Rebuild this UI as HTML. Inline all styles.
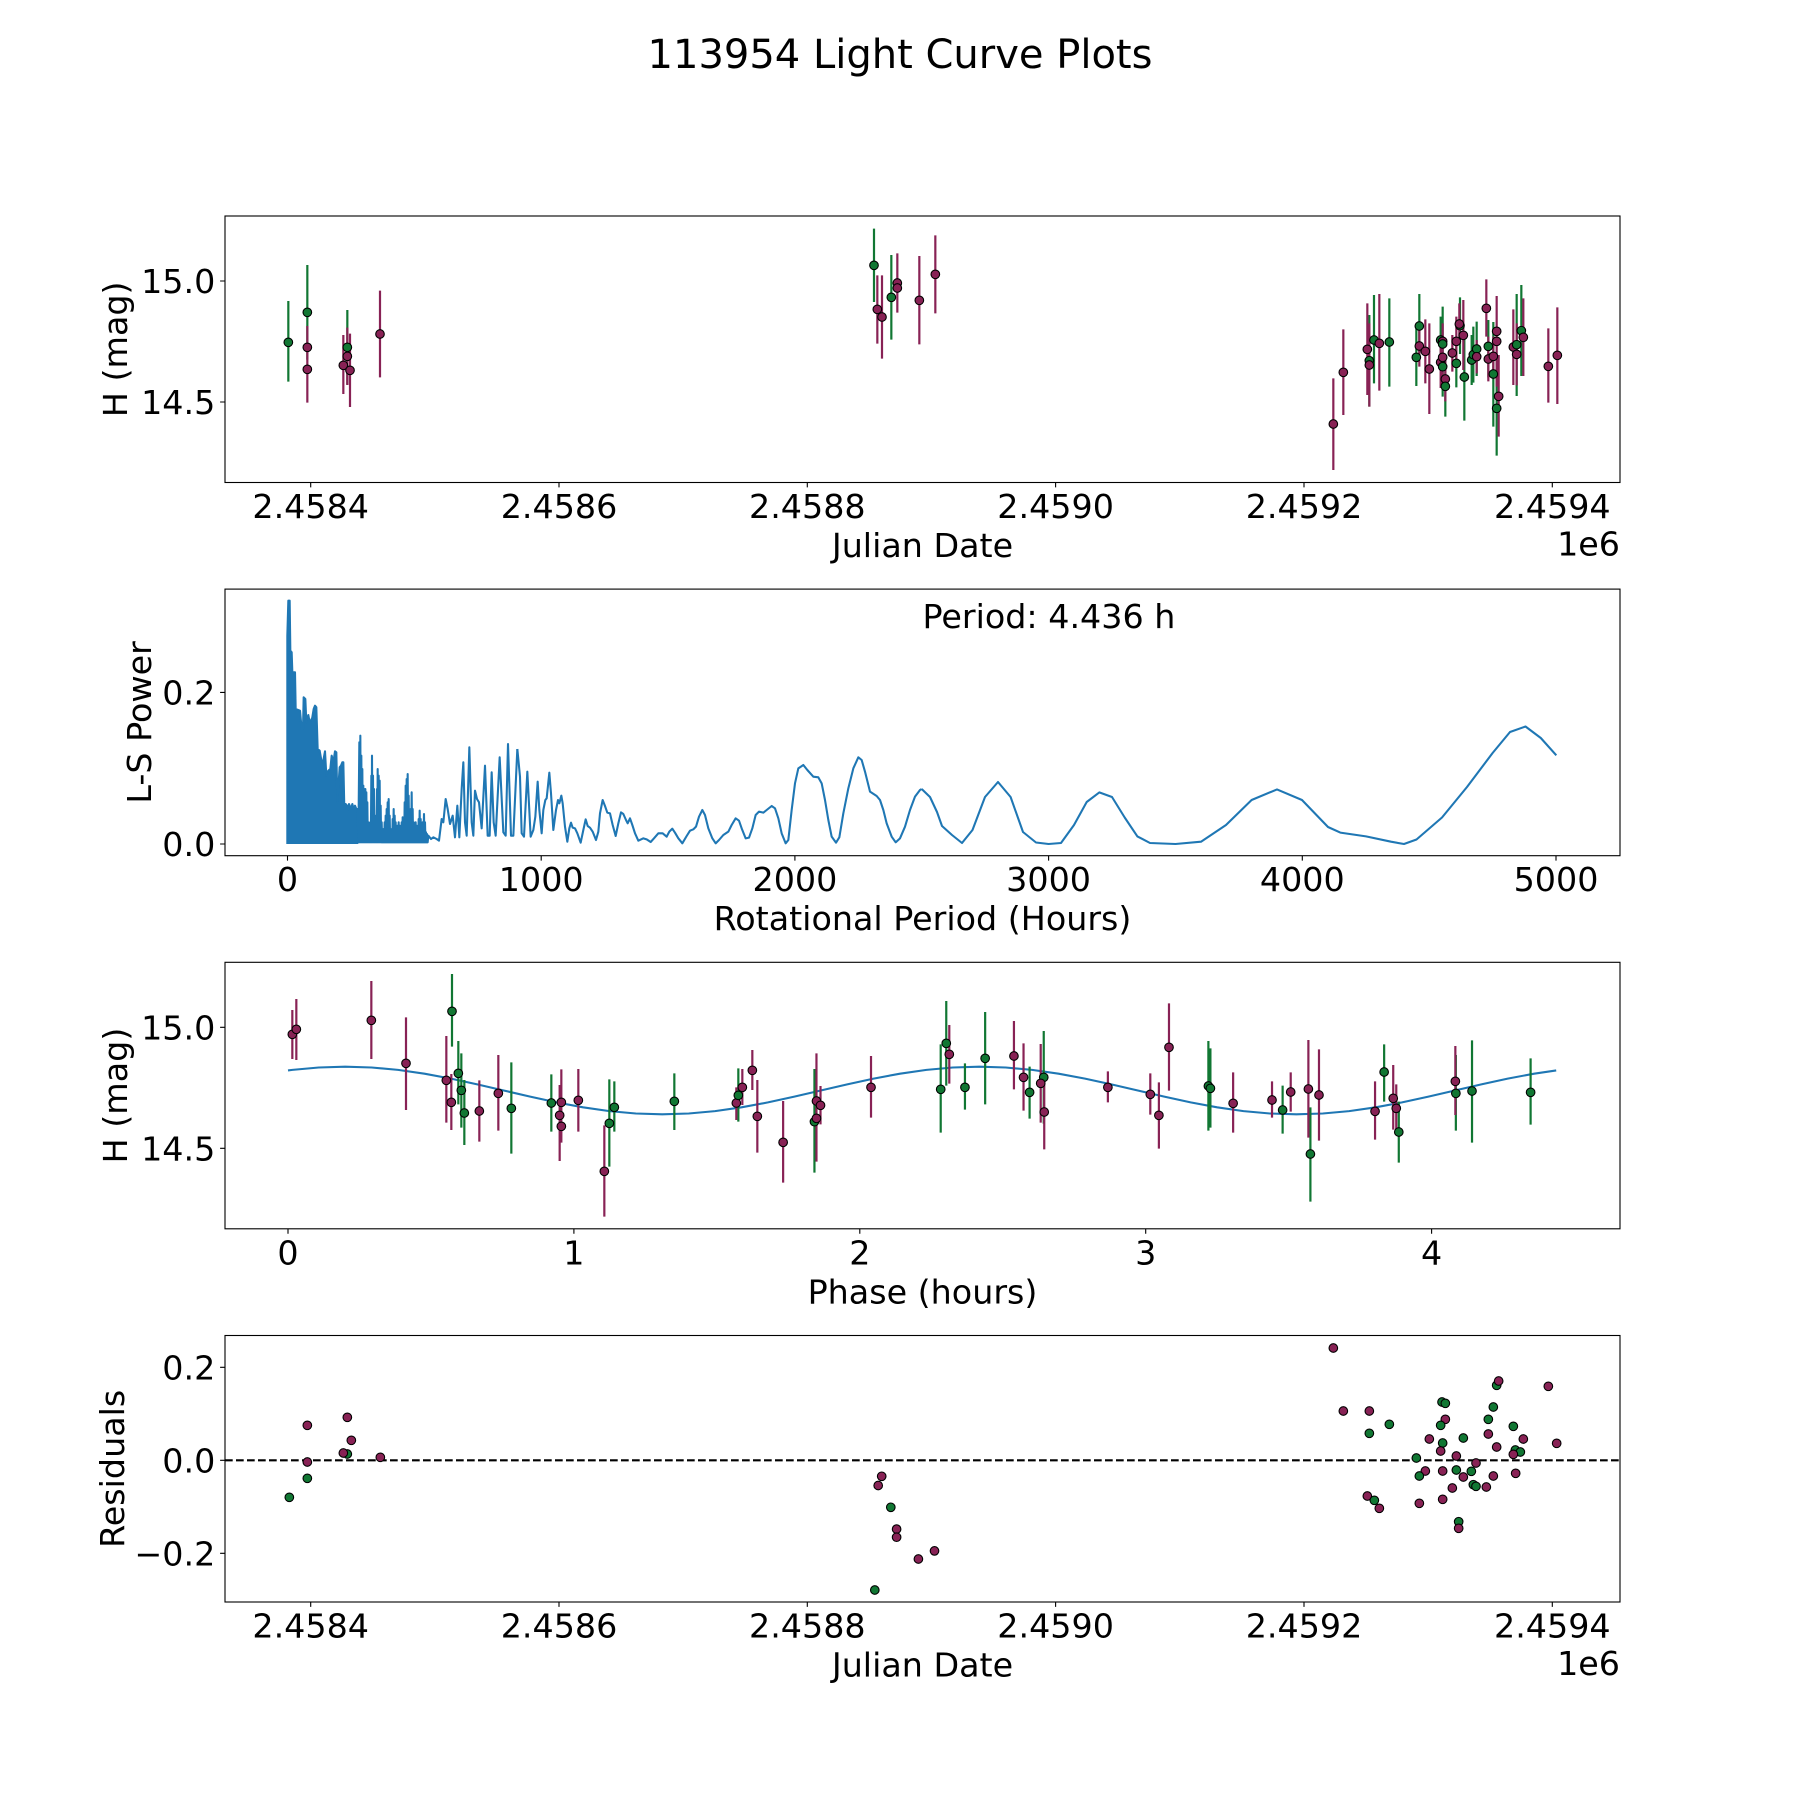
<!DOCTYPE html>
<html><head><meta charset="utf-8"><style>
html,body{margin:0;padding:0;background:#fff}
svg{display:block}
text{font-family:"DejaVu Sans","Liberation Sans",sans-serif;fill:#000}
.tk{font-size:33.33px}
.pts circle,.pts ellipse{stroke:#000;stroke-width:1.1;vector-effect:non-scaling-stroke}
.pts path{fill:none;stroke-width:2.2;vector-effect:non-scaling-stroke}
.g{fill:#117733}.m{fill:#882255}
.eg{stroke:#117733}.em{stroke:#882255}
.ax{fill:none;stroke:#000;stroke-width:1.11}
.tick{stroke:#000;stroke-width:1.11;fill:none}
.ls{fill:none;stroke:#1f77b4;stroke-width:2.08;stroke-linejoin:round;vector-effect:non-scaling-stroke}
</style></head><body>
<svg width="1800" height="1800" viewBox="0 0 1800 1800" xmlns="http://www.w3.org/2000/svg">
<rect width="1800" height="1800" fill="#fff"/>
<text x="900" y="68" font-size="40" text-anchor="middle">113954 Light Curve Plots</text>

<!-- ===== AXES 1 ===== -->
<g class="pts" transform="translate(150,180) scale(0.333333)">
<path class="eg" d="M415 363V605 M472 255V539 M592 390V614"/>
<path class="em" d="M472 438V566 M472 468V668 M580 465V642 M592 443V615 M600 461V681 M690 332V592"/>
<circle class="g" cx="415" cy="487" r="12.9"/><circle class="g" cx="472" cy="397" r="12.9"/>
<circle class="m" cx="472" cy="502" r="12.9"/><circle class="m" cx="472" cy="568" r="12.9"/>
<circle class="m" cx="580" cy="556" r="12.9"/><circle class="g" cx="592" cy="502" r="12.9"/>
<circle class="m" cx="592" cy="529" r="12.9"/><circle class="m" cx="600" cy="571" r="12.9"/>
<circle class="m" cx="690" cy="462" r="12.9"/>
</g>
<g class="pts" transform="translate(860,216) scale(0.333333)">
<path class="eg" d="M42 38V258 M94 117V371"/>
<path class="em" d="M52 178V383 M66 178V428 M112 112V290 M178 120V385 M226 58V292"/>
<circle class="g" cx="42" cy="148" r="12.9"/><circle class="m" cx="52" cy="280" r="12.9"/>
<circle class="m" cx="66" cy="303" r="12.9"/><circle class="g" cx="94" cy="244" r="12.9"/>
<circle class="m" cx="112" cy="201" r="12.9"/><circle class="m" cx="112" cy="216" r="12.9"/>
<circle class="m" cx="178" cy="253" r="12.9"/><circle class="m" cx="226" cy="175" r="12.9"/>
</g>
<g class="pts" transform="translate(1320,270) scale(0.333333)">
<path class="eg" d="M148 135V410 M162 75V340 M208 85V350 M298 72V264 M289 176V348 M362 140V280 M368 110V334 M368 200V380 M376 258V440 M409 208V352 M420 82V252 M433 190V452 M455 195V345 M460 170V338 M470 155V318 M505 150V322 M520 156V470 M530 273V557 M590 72V378 M604 45V318"/>
<path class="em" d="M40 325V600 M70 178V435 M142 100V375 M148 160V410 M178 72V362 M298 166V290 M316 148V340 M328 160V432 M368 160V345 M362 200V354 M368 180V344 M376 260V394 M397 195V305 M409 140V288 M418 100V224 M430 90V300 M470 210V310 M499 28V200 M505 200V334 M520 200V318 M530 78V290 M530 150V350 M536 255V500 M580 118V345 M590 160V346 M610 85V318 M685 175V398 M712 112V402"/>
<circle class="m" cx="40" cy="462" r="12.9"/><circle class="m" cx="70" cy="307" r="12.9"/>
<circle class="m" cx="142" cy="238" r="12.9"/><circle class="g" cx="148" cy="272" r="12.9"/>
<circle class="m" cx="148" cy="285" r="12.9"/><circle class="g" cx="162" cy="210" r="12.9"/>
<circle class="m" cx="178" cy="220" r="12.9"/><circle class="g" cx="208" cy="216" r="12.9"/>
<circle class="g" cx="298" cy="168" r="12.9"/><circle class="g" cx="289" cy="262" r="12.9"/>
<circle class="m" cx="298" cy="228" r="12.9"/><circle class="m" cx="316" cy="244" r="12.9"/>
<circle class="m" cx="328" cy="297" r="12.9"/><circle class="g" cx="362" cy="210" r="12.9"/>
<circle class="m" cx="368" cy="214" r="12.9"/><circle class="g" cx="368" cy="222" r="12.9"/>
<circle class="m" cx="362" cy="277" r="12.9"/><circle class="m" cx="368" cy="262" r="12.9"/>
<circle class="g" cx="368" cy="290" r="12.9"/><circle class="m" cx="376" cy="327" r="12.9"/>
<circle class="g" cx="376" cy="349" r="12.9"/><circle class="m" cx="397" cy="249" r="12.9"/>
<circle class="m" cx="409" cy="214" r="12.9"/><circle class="g" cx="409" cy="280" r="12.9"/>
<circle class="g" cx="420" cy="167" r="12.9"/><circle class="m" cx="418" cy="162" r="12.9"/>
<circle class="m" cx="430" cy="196" r="12.9"/><circle class="g" cx="433" cy="321" r="12.9"/>
<circle class="g" cx="455" cy="270" r="12.9"/><circle class="g" cx="460" cy="254" r="12.9"/>
<circle class="g" cx="470" cy="237" r="12.9"/><circle class="m" cx="470" cy="260" r="12.9"/>
<circle class="m" cx="499" cy="115" r="12.9"/><circle class="g" cx="505" cy="229" r="12.9"/>
<circle class="m" cx="505" cy="267" r="12.9"/><circle class="m" cx="520" cy="259" r="12.9"/>
<circle class="g" cx="520" cy="312" r="12.9"/><circle class="m" cx="530" cy="184" r="12.9"/>
<circle class="m" cx="530" cy="214" r="12.9"/><circle class="m" cx="536" cy="379" r="12.9"/>
<circle class="g" cx="530" cy="415" r="12.9"/><circle class="m" cx="580" cy="231" r="12.9"/>
<circle class="g" cx="590" cy="224" r="12.9"/><circle class="m" cx="590" cy="253" r="12.9"/>
<circle class="g" cx="604" cy="182" r="12.9"/><circle class="m" cx="610" cy="202" r="12.9"/>
<circle class="m" cx="685" cy="289" r="12.9"/><circle class="m" cx="712" cy="256" r="12.9"/>
</g>
<rect class="ax" x="225" y="216" width="1395" height="266.5"/>
<path class="tick" d="M310.7 482.5v4.9M559 482.5v4.9M807.3 482.5v4.9M1055.6 482.5v4.9M1304 482.5v4.9M1552.3 482.5v4.9M225 281h-4.9M225 402h-4.9"/>
<g class="tk" text-anchor="middle">
<text x="310.7" y="518">2.4584</text><text x="559" y="518">2.4586</text><text x="807.3" y="518">2.4588</text>
<text x="1055.6" y="518">2.4590</text><text x="1304" y="518">2.4592</text><text x="1552.3" y="518">2.4594</text>
</g>
<g class="tk" text-anchor="end"><text x="215.3" y="293.2">15.0</text><text x="215.3" y="414.2">14.5</text></g>
<text class="tk" x="922.5" y="557" text-anchor="middle">Julian Date</text>
<text class="tk" x="1620" y="555.5" text-anchor="end">1e6</text>
<text class="tk" transform="translate(127,349.3) rotate(-90)" text-anchor="middle">H (mag)</text>

<!-- ===== AXES 2 (periodogram) ===== -->
<g transform="translate(225,589) scale(0.333333)">
<path d="M187 765L187 140L190 35L194 35L196 185L200 190L202 250L210 250L212 360L225 365L230 420L234 420L236 325L241 330L244 400L250 378L254 400L258 395L262 385L266 360L270 350L274 355L278 480L284 485L290 520L294 520L300 487L304 560L310 545L316 540L320 500L325 520L330 487L334 490L337 640L344 535L348 530L352 520L355 520L358 660L362 645L366 650L370 660L372 645L378 660L382 645L386 660L390 650L394 660L398 660L400 765Z" fill="#1f77b4"/>
<path class="ls" d="M187 765L187 140L190 35L194 35L196 185L200 190L202 250L210 250L212 360L225 365L230 420L234 420L236 325L241 330L244 400L250 378L254 400L258 395L262 385L266 360L270 350L274 355L278 480L284 485L290 520L294 520L300 487L304 560L310 545L316 540L320 500L325 520L330 487L334 490L337 640L344 535L348 530L352 520L355 520L358 660L362 645L366 650L370 660L372 645L378 660L382 645L386 660L390 650L394 660L398 660L400 760L403 460L404.5 760L406 440L407.5 760L409 500L410.5 760L412 540L413.5 760L415 590L416.5 760L418 600L419.5 760L421 600L422.5 760L424 610L425.5 760L427 640L428.5 760L430 700L431.5 760L433 720L434.5 760L436 700L437.5 760L439 560L440 760L441 500L442.5 760L444 560L445.5 760L447 600L448.5 760L450 680L451.5 760L453 720L454.5 760L456 600L457 760L458 540L459.5 760L461 560L462.5 760L464 575L465.5 760L467 650L468.5 760L470 700L471.5 760L473 720L474.5 760L476 720L477.5 760L479 700L480.5 760L482 680L483.5 760L485 660L486.5 760L488 640L489.5 760L491 630L492.5 760L494 680L495.5 760L497 720L498.5 760L500 730L501.5 760L503 690L504.5 760L506 660L507.5 760L509 680L510.5 760L512 700L513.5 760L515 720L516.5 760L518 710L519.5 760L521 700L522.5 760L524 710L525.5 760L527 720L528.5 760L530 700L531.5 760L533 685L534.5 760L536 700L537.5 760L539 640L540.5 760L542 590L543.5 760L545 570L546.5 760L548 555L549.5 760L551 620L552.5 760L554 700L555.5 760L557 660L558.5 760L560 610L561.5 760L563 660L564.5 760L566 700L567.5 760L569 710L570.5 760L572 700L573.5 760L575 710L576.5 760L578 720L579.5 760L581 690L582.5 760L584 665L585.5 760L587 690L588.5 760L590 720L591.5 760L593 700L595 760L597 675L598.5 760L600 700L601.5 760L603 730L604.5 760L606 735L608 760L610 740L618 750L625 745L635 750L642 755L650 690L655 700L662 630L668 660L675 705L683 680L690 745L697 650L703 745L710 600L715 520L720 700L725 740L733 475L740 700L745 740L750 605L756 630L762 640L770 718L780 530L788 740L794 740L800 550L806 700L812 740L824 505L835 730L842 740L849 465L858 740L865 740L877 480"/>
</g>
<g transform="translate(520,700) scale(0.333333)">
<path class="ls" d="M-8 147L0 230L5 400L12 410L22 215L32 410L40 390L46 350L53 245L58 330L65 400L70 330L76 300L80 295L88 218L93 280L100 390L108 330L114 300L118 310L124 287L128 310L135 380L142 425L148 385L153 368L158 383L165 385L172 400L182 428L190 390L197 358L203 378L210 383L218 395L228 420L235 395L240 340L248 300L255 318L262 338L270 340L278 375L287 408L295 370L303 337L310 342L318 360L323 370L330 355L337 375L345 400L355 422L370 415L380 418L392 426L402 415L415 400L428 400L440 410L448 395L457 386L465 398L475 415L487 430L500 408L510 392L520 388L528 380L537 350L547 330L555 345L565 385L577 415L587 430L597 420L610 405L625 395L635 375L647 355L657 362L665 385L677 415L687 413L697 385L707 345L717 335L730 338L740 330L755 318L765 325L775 355L785 400L797 430L805 420L815 330L825 250L835 205L850 195L862 210L880 230L895 232L905 250L915 300L925 360L935 410L948 428L958 412L970 340L985 265L1000 205L1015 172L1025 180L1035 215L1050 275L1070 288L1080 300L1090 330L1100 370L1115 410L1127 427L1140 415L1155 380L1170 330L1185 290L1200 270L1205 267"/>
</g>
<path class="ls" d="M921.7 789L930 797L937 812L942 826L952 835L962 843L972.5 830L985 797L998 782L1010.6 797L1023 832L1036 842.5L1048.6 844L1061 843L1074 825L1086.7 802L1099.3 792.4L1112 797L1124.7 817.5L1137.4 836.4L1150 843L1175.5 844L1201 841.7L1226 825L1251.6 800L1277 789.4L1302 800L1328 827L1340.3 832.6L1366 836.4L1391 841.7L1404 844L1416.5 839.5L1442 817.5L1467 787L1492.6 753L1510 732L1525.5 726.5L1540.8 738L1556.3 755.3"/>
<rect class="ax" x="225" y="589.1" width="1395" height="266.6"/>
<path class="tick" d="M287.5 855.7v4.9M541.2 855.7v4.9M794.9 855.7v4.9M1048.6 855.7v4.9M1302.3 855.7v4.9M1556 855.7v4.9M225 844h-4.9M225 692.4h-4.9"/>
<g class="tk" text-anchor="middle">
<text x="287.5" y="891.2">0</text><text x="541.2" y="891.2">1000</text><text x="794.9" y="891.2">2000</text>
<text x="1048.6" y="891.2">3000</text><text x="1302.3" y="891.2">4000</text><text x="1556" y="891.2">5000</text>
</g>
<g class="tk" text-anchor="end"><text x="215.3" y="856.2">0.0</text><text x="215.3" y="704.6">0.2</text></g>
<text class="tk" x="922.5" y="628">Period: 4.436 h</text>
<text class="tk" x="922.5" y="930" text-anchor="middle">Rotational Period (Hours)</text>
<text class="tk" transform="translate(151,722.4) rotate(-90)" text-anchor="middle">L-S Power</text>

<!-- ===== AXES 3 (phase) ===== -->
<g transform="translate(345.2,1090.5) scale(634.1,-23.8)">
<polyline class="ls" points="-0.0902,0.843 -0.0833,0.866 -0.0417,0.966 0,1 0.0417,0.966 0.0833,0.866 0.125,0.707 0.1667,0.5 0.2083,0.259 0.25,0 0.2917,-0.259 0.3333,-0.5 0.375,-0.707 0.4167,-0.866 0.4583,-0.966 0.5,-1 0.5417,-0.966 0.5833,-0.866 0.625,-0.707 0.6667,-0.5 0.7083,-0.259 0.75,0 0.7917,0.259 0.8333,0.5 0.875,0.707 0.9167,0.866 0.9583,0.966 1,1 1.0417,0.966 1.0833,0.866 1.125,0.707 1.1667,0.5 1.2083,0.259 1.25,0 1.2917,-0.259 1.3333,-0.5 1.375,-0.707 1.4167,-0.866 1.4583,-0.966 1.5,-1 1.5417,-0.966 1.5833,-0.866 1.625,-0.707 1.6667,-0.5 1.7083,-0.259 1.75,0 1.7917,0.259 1.8333,0.5 1.875,0.707 1.9098,0.843"/>
</g>
<g class="pts" transform="translate(270,965) scale(0.333333)">
<path class="eg" d="M546 27V245 M565 228V418 M574 265V488 M583 345V540 M724 292V566 M844 328V500 M1018 343V605 M1033 349V500 M1213 325V495 M1405 310V470"/>
<path class="em" d="M67 135V282 M79 102V285 M304 48V282 M408 157V435 M529 213V473 M544 327V495 M628 346V530 M685 270V497 M874 313V510 M869 360V588 M874 435V533 M925 312V500 M1003 481V755 M1399 367V465 M1417 312V420 M1447 255V375 M1462 345V563"/>
<circle class="m" cx="67" cy="208" r="12.9"/><circle class="m" cx="79" cy="193" r="12.9"/>
<circle class="m" cx="304" cy="166" r="12.9"/><circle class="m" cx="408" cy="295" r="12.9"/>
<circle class="g" cx="546" cy="139" r="12.9"/><circle class="m" cx="529" cy="346" r="12.9"/>
<circle class="m" cx="544" cy="412" r="12.9"/><circle class="g" cx="565" cy="325" r="12.9"/>
<circle class="g" cx="574" cy="376" r="12.9"/><circle class="g" cx="583" cy="444" r="12.9"/>
<circle class="m" cx="628" cy="438" r="12.9"/><circle class="m" cx="685" cy="385" r="12.9"/>
<circle class="g" cx="724" cy="430" r="12.9"/><circle class="g" cx="844" cy="414" r="12.9"/>
<circle class="m" cx="874" cy="412" r="12.9"/><circle class="m" cx="869" cy="451" r="12.9"/>
<circle class="m" cx="874" cy="484" r="12.9"/><circle class="m" cx="925" cy="406" r="12.9"/>
<circle class="m" cx="1003" cy="619" r="12.9"/><circle class="g" cx="1018" cy="475" r="12.9"/>
<circle class="g" cx="1033" cy="427" r="12.9"/><circle class="g" cx="1213" cy="409" r="12.9"/>
<circle class="m" cx="1399" cy="414" r="12.9"/><circle class="g" cx="1405" cy="391" r="12.9"/>
<circle class="m" cx="1417" cy="367" r="12.9"/><circle class="m" cx="1447" cy="316" r="12.9"/>
<circle class="m" cx="1462" cy="454" r="12.9"/>
</g>
<g class="pts" transform="translate(770,965) scale(0.50505,0.333333)">
<path class="eg" d="M88 312V623 M338 238V503 M349 108V362 M386 295V434 M426 141V418 M514 305V461 M542 198V476 M868 228V497 M872 250V488 M1015 362V506 M1070 427V710 M1216 238V410 M1245 410V593 M1358 270V497 M1390 226V533 M1506 280V479"/>
<path class="em" d="M26 408V653 M92 265V550 M92 380V590 M100 363V478 M200 273V458 M355 180V356 M483 168V373 M502 235V437 M536 237V473 M543 330V553 M669 319V412 M753 325V449 M770 352V551 M790 115V377 M917 322V503 M994 349V458 M1031 322V440 M1066 225V518 M1087 253V527 M1198 349V524 M1234 300V494 M1240 358V502 M1357 243V450"/>
<ellipse class="m" cx="26" cy="532" rx="8.51" ry="12.9"/><ellipse class="g" cx="88" cy="470" rx="8.51" ry="12.9"/>
<ellipse class="m" cx="92" cy="408" rx="8.51" ry="12.9"/><ellipse class="m" cx="92" cy="460" rx="8.51" ry="12.9"/>
<ellipse class="m" cx="100" cy="421" rx="8.51" ry="12.9"/><ellipse class="m" cx="200" cy="367" rx="8.51" ry="12.9"/>
<ellipse class="g" cx="338" cy="373" rx="8.51" ry="12.9"/><ellipse class="g" cx="349" cy="235" rx="8.51" ry="12.9"/>
<ellipse class="m" cx="355" cy="268" rx="8.51" ry="12.9"/><ellipse class="g" cx="386" cy="367" rx="8.51" ry="12.9"/>
<ellipse class="g" cx="426" cy="280" rx="8.51" ry="12.9"/><ellipse class="m" cx="483" cy="273" rx="8.51" ry="12.9"/>
<ellipse class="m" cx="502" cy="337" rx="8.51" ry="12.9"/><ellipse class="g" cx="514" cy="382" rx="8.51" ry="12.9"/>
<ellipse class="g" cx="542" cy="337" rx="8.51" ry="12.9"/><ellipse class="m" cx="536" cy="355" rx="8.51" ry="12.9"/>
<ellipse class="m" cx="543" cy="441" rx="8.51" ry="12.9"/><ellipse class="m" cx="669" cy="367" rx="8.51" ry="12.9"/>
<ellipse class="m" cx="753" cy="388" rx="8.51" ry="12.9"/><ellipse class="m" cx="770" cy="451" rx="8.51" ry="12.9"/>
<ellipse class="m" cx="790" cy="247" rx="8.51" ry="12.9"/><ellipse class="g" cx="868" cy="363" rx="8.51" ry="12.9"/>
<ellipse class="g" cx="872" cy="370" rx="8.51" ry="12.9"/><ellipse class="m" cx="917" cy="415" rx="8.51" ry="12.9"/>
<ellipse class="m" cx="994" cy="405" rx="8.51" ry="12.9"/><ellipse class="g" cx="1015" cy="435" rx="8.51" ry="12.9"/>
<ellipse class="m" cx="1031" cy="381" rx="8.51" ry="12.9"/><ellipse class="m" cx="1066" cy="372" rx="8.51" ry="12.9"/>
<ellipse class="g" cx="1070" cy="567" rx="8.51" ry="12.9"/><ellipse class="m" cx="1087" cy="390" rx="8.51" ry="12.9"/>
<ellipse class="m" cx="1198" cy="439" rx="8.51" ry="12.9"/><ellipse class="g" cx="1216" cy="321" rx="8.51" ry="12.9"/>
<ellipse class="m" cx="1234" cy="400" rx="8.51" ry="12.9"/><ellipse class="m" cx="1240" cy="430" rx="8.51" ry="12.9"/>
<ellipse class="g" cx="1245" cy="501" rx="8.51" ry="12.9"/><ellipse class="m" cx="1357" cy="349" rx="8.51" ry="12.9"/>
<ellipse class="g" cx="1358" cy="385" rx="8.51" ry="12.9"/><ellipse class="g" cx="1390" cy="378" rx="8.51" ry="12.9"/>
<ellipse class="g" cx="1506" cy="382" rx="8.51" ry="12.9"/>
</g>
<rect class="ax" x="225" y="962.3" width="1395" height="266.5"/>
<path class="tick" d="M288 1228.8v4.9M573.9 1228.8v4.9M859.8 1228.8v4.9M1145.7 1228.8v4.9M1431.6 1228.8v4.9M225 1027.3h-4.9M225 1148.3h-4.9"/>
<g class="tk" text-anchor="middle">
<text x="288" y="1264.3">0</text><text x="573.9" y="1264.3">1</text><text x="859.8" y="1264.3">2</text>
<text x="1145.7" y="1264.3">3</text><text x="1431.6" y="1264.3">4</text>
</g>
<g class="tk" text-anchor="end"><text x="215.3" y="1039.5">15.0</text><text x="215.3" y="1160.5">14.5</text></g>
<text class="tk" x="922.5" y="1303.3" text-anchor="middle">Phase (hours)</text>
<text class="tk" transform="translate(127,1095.5) rotate(-90)" text-anchor="middle">H (mag)</text>

<!-- ===== AXES 4 (residuals) ===== -->
<line x1="225" y1="1460.3" x2="1620" y2="1460.3" stroke="#000" stroke-width="2.08" stroke-dasharray="7.7 3.3"/>
<g class="pts" transform="translate(270,1400) scale(0.333333)">
<circle class="m" cx="112" cy="76" r="12.9"/><circle class="m" cx="112" cy="186" r="12.9"/>
<circle class="g" cx="112" cy="235" r="12.9"/><circle class="g" cx="58" cy="292" r="12.9"/>
<circle class="m" cx="232" cy="52" r="12.9"/><circle class="m" cx="244" cy="121" r="12.9"/>
<circle class="g" cx="232" cy="162" r="12.9"/><circle class="m" cx="220" cy="159" r="12.9"/>
<circle class="m" cx="331" cy="172" r="12.9"/>
</g>
<g class="pts">
<circle class="g" cx="874.8" cy="1590" r="4.3"/><circle class="m" cx="878.2" cy="1485.5" r="4.3"/>
<circle class="m" cx="881.7" cy="1476.3" r="4.3"/><circle class="g" cx="890.8" cy="1507.3" r="4.3"/>
<circle class="m" cx="896.6" cy="1529.1" r="4.3"/><circle class="m" cx="896.6" cy="1537.2" r="4.3"/>
<circle class="m" cx="918.4" cy="1559" r="4.3"/><circle class="m" cx="934.5" cy="1550.9" r="4.3"/>
</g>
<g class="pts" transform="translate(1320,1340) scale(0.333333)">
<circle class="m" cx="40" cy="24" r="12.9"/><circle class="m" cx="70" cy="213" r="12.9"/>
<circle class="m" cx="148" cy="213" r="12.9"/><circle class="g" cx="148" cy="280" r="12.9"/>
<circle class="g" cx="208" cy="253" r="12.9"/><circle class="m" cx="142" cy="468" r="12.9"/>
<circle class="g" cx="163" cy="481" r="12.9"/><circle class="m" cx="178" cy="505" r="12.9"/>
<circle class="m" cx="298" cy="490" r="12.9"/><circle class="g" cx="289" cy="354" r="12.9"/>
<circle class="m" cx="316" cy="393" r="12.9"/><circle class="g" cx="298" cy="408" r="12.9"/>
<circle class="m" cx="328" cy="297" r="12.9"/><circle class="g" cx="366" cy="186" r="12.9"/>
<circle class="g" cx="376" cy="190" r="12.9"/><circle class="m" cx="376" cy="238" r="12.9"/>
<circle class="g" cx="362" cy="256" r="12.9"/><circle class="g" cx="368" cy="309" r="12.9"/>
<circle class="m" cx="362" cy="333" r="12.9"/><circle class="m" cx="368" cy="393" r="12.9"/>
<circle class="m" cx="368" cy="478" r="12.9"/><circle class="m" cx="397" cy="444" r="12.9"/>
<circle class="m" cx="409" cy="348" r="12.9"/><circle class="g" cx="409" cy="390" r="12.9"/>
<circle class="g" cx="430" cy="294" r="12.9"/><circle class="m" cx="430" cy="411" r="12.9"/>
<circle class="g" cx="454" cy="394" r="12.9"/><circle class="m" cx="468" cy="369" r="12.9"/>
<circle class="g" cx="460" cy="434" r="12.9"/><circle class="g" cx="468" cy="439" r="12.9"/>
<circle class="m" cx="499" cy="441" r="12.9"/><circle class="m" cx="520" cy="408" r="12.9"/>
<circle class="g" cx="416" cy="545" r="12.9"/><circle class="m" cx="416" cy="565" r="12.9"/>
<circle class="g" cx="505" cy="238" r="12.9"/><circle class="m" cx="505" cy="282" r="12.9"/>
<circle class="g" cx="520" cy="201" r="12.9"/><circle class="g" cx="530" cy="136" r="12.9"/>
<circle class="m" cx="536" cy="123" r="12.9"/><circle class="m" cx="530" cy="321" r="12.9"/>
<circle class="g" cx="580" cy="259" r="12.9"/><circle class="m" cx="610" cy="297" r="12.9"/>
<circle class="g" cx="586" cy="330" r="12.9"/><circle class="g" cx="601" cy="336" r="12.9"/>
<circle class="m" cx="580" cy="343" r="12.9"/><circle class="m" cx="587" cy="400" r="12.9"/>
<circle class="m" cx="685" cy="139" r="12.9"/><circle class="m" cx="710" cy="310" r="12.9"/>
</g>
<rect class="ax" x="225" y="1335.5" width="1395" height="266.5"/>
<path class="tick" d="M310.7 1602v4.9M559 1602v4.9M807.3 1602v4.9M1055.6 1602v4.9M1304 1602v4.9M1552.3 1602v4.9M225 1367.3h-4.9M225 1460.3h-4.9M225 1553.3h-4.9"/>
<g class="tk" text-anchor="middle">
<text x="310.7" y="1637.5">2.4584</text><text x="559" y="1637.5">2.4586</text><text x="807.3" y="1637.5">2.4588</text>
<text x="1055.6" y="1637.5">2.4590</text><text x="1304" y="1637.5">2.4592</text><text x="1552.3" y="1637.5">2.4594</text>
</g>
<g class="tk" text-anchor="end"><text x="215.3" y="1379.5">0.2</text><text x="215.3" y="1472.5">0.0</text><text x="215.3" y="1565.5">−0.2</text></g>
<text class="tk" x="922.5" y="1676.5" text-anchor="middle">Julian Date</text>
<text class="tk" x="1620" y="1675" text-anchor="end">1e6</text>
<text class="tk" transform="translate(124,1468.8) rotate(-90)" text-anchor="middle">Residuals</text>
</svg>
</body></html>
